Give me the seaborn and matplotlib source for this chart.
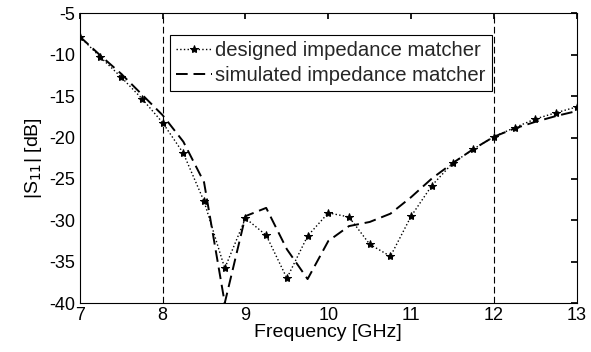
import numpy as np
import pandas as pd
import matplotlib
matplotlib.use("Agg")
import matplotlib.pyplot as plt
import seaborn as sns

freq = [7.0, 7.25, 7.5, 7.75, 8.0, 8.25, 8.5, 8.75, 9.0, 9.25, 9.5, 9.75, 10.0,
        10.25, 10.5, 10.75, 11.0, 11.25, 11.5, 11.75, 12.0, 12.25, 12.5, 12.75, 13.0]
designed = [-7.8, -10.3, -12.7, -15.3, -18.2, -21.9, -27.7, -35.8, -29.75, -31.8, -37.0,
            -31.9, -29.1, -29.6, -32.9, -34.35, -29.5, -25.8, -23.1, -21.4, -19.9,
            -18.8, -17.75, -17.0, -16.3]
simulated = [-7.8, -10.1, -12.3, -14.8, -17.3, -20.5, -25.4, -40.0, -29.5, -28.5, -33.5,
             -37.1, -32.5, -30.7, -30.2, -29.2, -27.2, -24.95, -23.1, -21.4, -19.9,
             -18.9, -18.1, -17.4, -16.8]
vlines = [8, 12]
xticks = [7, 8, 9, 10, 11, 12, 13]
yticks = [-40, -35, -30, -25, -20, -15, -10, -5]

sns.set_theme(style="white")
plt.rcParams['font.family'] = ['Liberation Sans', 'DejaVu Sans']
plt.rcParams['axes.unicode_minus'] = False

df = pd.DataFrame({"freq": freq, "designed": designed, "simulated": simulated})

fig = plt.figure(figsize=(5.91, 3.52), dpi=100)
ax = fig.add_axes([0.135, 0.139, 0.841, 0.823])

sns.lineplot(data=df, x="freq", y="designed", ax=ax, color="black", linestyle=":",
             linewidth=1.0, marker="*", markersize=6, markeredgecolor="black",
             label="designed impedance matcher")
sns.lineplot(data=df, x="freq", y="simulated", ax=ax, color="black",
             linewidth=1.4, label="simulated impedance matcher", dashes=False)
ax.lines[-1].set_dashes([6, 3])

for v in vlines:
    ax.axvline(v, color="black", linestyle=(0, (6, 3)), linewidth=0.8)

ax.set_xlim(7, 13)
ax.set_ylim(-40, -5)
ax.set_xticks(xticks)
ax.set_yticks(yticks)
ax.tick_params(direction="in", length=4, top=True, right=True, labelsize=13,
               color="black", labelcolor="black")
ax.tick_params(axis="y", pad=3)
ax.tick_params(axis="x", pad=3)
for s in ax.spines.values():
    s.set_color("black")
    s.set_linewidth(0.8)
ax.set_xlabel("Frequency [GHz]", fontsize=14, color="black", labelpad=0)
ax.set_ylabel(r"|S$_{11}$| [dB]", fontsize=14, color="black", labelpad=4)

leg = ax.legend(loc="upper center", bbox_to_anchor=(0.505, 0.925), fontsize=14.6,
                frameon=True, fancybox=False, edgecolor="black", framealpha=1,
                handlelength=1.8, handletextpad=0.15, borderpad=0.3, labelspacing=0.3,
                borderaxespad=0)
leg.get_frame().set_linewidth(0.8)

fig.savefig("out.png", dpi=100)
